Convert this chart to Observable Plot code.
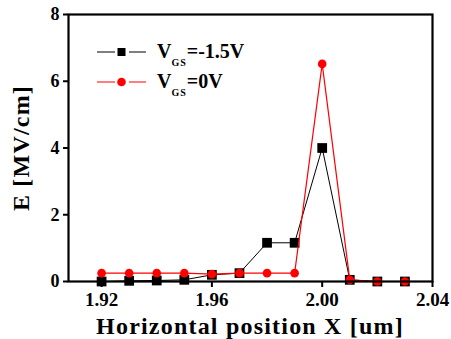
<!DOCTYPE html>
<html><head><meta charset="utf-8">
<script src="https://cdn.jsdelivr.net/npm/d3@7"></script>
<script src="https://cdn.jsdelivr.net/npm/@observablehq/plot@0.6"></script>
<style>body{margin:0;background:#fff}</style>
</head><body><div id="chart"></div>
<script>
const xPos = [1.92,1.93,1.94,1.95,1.96,1.97,1.98,1.99,2.00,2.01,2.02,2.03];
const eNeg15 = [0.0,0.02,0.03,0.05,0.2,0.25,1.16,1.16,4.0,0.05,0.0,0.0];
const eZero = [0.25,0.25,0.25,0.25,0.22,0.25,0.25,0.25,6.52,0.05,0.0,0.0];
const xTicks = [1.92,1.96,2.00,2.04];
const yTicks = [0,2,4,6,8];
const seriesNames = ["-1.5V","0V"];
const seriesColors = ["#000000","#ff0000"];

const black = xPos.map((x,i)=>({x, e:eNeg15[i]}));
const red = xPos.map((x,i)=>({x, e:eZero[i]}));
const font = "Liberation Serif, Times New Roman, serif";

const plot = Plot.plot({
  width:451, height:339,
  marginLeft:68, marginRight:19, marginTop:14, marginBottom:58,
  style:{fontFamily:font, fontWeight:"bold", fontSize:"17px", color:"#000", background:"#fff"},
  x:{domain:[1.908,2.04], label:null},
  y:{domain:[0,8], label:null},
  marks:[
    Plot.axisX({ticks:xTicks, tickFormat:d3.format(".2f"), tickSize:6, tickPadding:5, fontSize:19, fontFamily:font, fontWeight:"bold", strokeWidth:2, label:null}),
    Plot.axisY({ticks:yTicks, tickSize:5, tickPadding:4, fontSize:18, fontFamily:font, fontWeight:"bold", strokeWidth:2, label:null}),
    Plot.line(black,{x:"x",y:"e",stroke:seriesColors[0],strokeWidth:1}),
    Plot.dot(black,{x:"x",y:"e",symbol:"square",fill:seriesColors[0],r:5.5}),
    Plot.line(red,{x:"x",y:"e",stroke:seriesColors[1],strokeWidth:1.2}),
    Plot.dot(red,{x:"x",y:"e",symbol:"circle",fill:seriesColors[1],r:4.3}),
    Plot.frame({stroke:"#000",strokeWidth:2.2})
  ]
});
document.getElementById("chart").appendChild(plot);

const svg = d3.select(plot);
// axis titles
svg.append("text").attr("x",250).attr("y",334).attr("text-anchor","middle")
  .attr("font-family",font).attr("font-weight","bold").attr("font-size",24)
  .attr("letter-spacing",1.2).text("Horizontal position X [um]");
svg.append("text").attr("transform","translate(29,148) rotate(-90)").attr("text-anchor","middle")
  .attr("font-family",font).attr("font-weight","bold").attr("font-size",24)
  .attr("letter-spacing",1.2).text("E [MV/cm]");
// legend
const lg = svg.append("g").attr("text-anchor","start");
seriesNames.forEach((n,i)=>{
  const y = 52 + i*30;
  lg.append("line").attr("x1",97).attr("x2",146).attr("y1",y).attr("y2",y).attr("stroke",seriesColors[i]).attr("stroke-width",1.2);
  lg.append("rect").attr("x",115).attr("y",y-6).attr("width",14).attr("height",12).attr("fill","#fff");
  if(i===0) lg.append("rect").attr("x",117.5).attr("y",y-4).attr("width",8).attr("height",8).attr("fill",seriesColors[i]);
  else lg.append("circle").attr("cx",121.5).attr("cy",y).attr("r",4.3).attr("fill",seriesColors[i]);
  const t = lg.append("text").attr("x",157).attr("y",y+6).attr("font-family",font).attr("font-weight","bold").attr("font-size",20);
  t.append("tspan").text("V");
  t.append("tspan").attr("font-size",10).attr("dy",8).attr("letter-spacing",1).text("GS");
  t.append("tspan").attr("dy",-8).text("="+n);
});
</script></body></html>
